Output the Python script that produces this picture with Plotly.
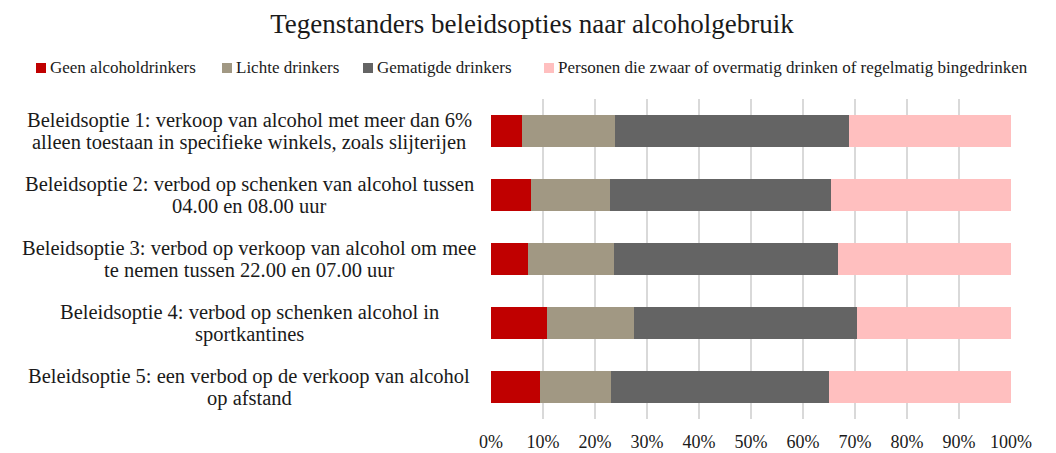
import plotly.graph_objects as go

# Share of opponents per policy option, by drinking group (percent)
options = [
    "Beleidsoptie 1: verkoop van alcohol met meer dan 6%<br>alleen toestaan in specifieke winkels, zoals slijterijen",
    "Beleidsoptie 2: verbod op schenken van alcohol tussen<br>04.00 en 08.00 uur",
    "Beleidsoptie 3: verbod op verkoop van alcohol om mee<br>te nemen tussen 22.00 en 07.00 uur",
    "Beleidsoptie 4: verbod op schenken alcohol in<br>sportkantines",
    "Beleidsoptie 5: een verbod op de verkoop van alcohol<br>op afstand",
]
geen = [6.0, 7.7, 7.2, 10.8, 9.5]
licht = [17.9, 15.2, 16.5, 16.7, 13.6]
gematigd = [44.9, 42.5, 43.0, 42.8, 41.9]
zwaar = [31.2, 34.6, 33.3, 29.7, 35.0]

groups = [
    "Geen alcoholdrinkers",
    "Lichte drinkers",
    "Gematigde drinkers",
    "Personen die zwaar of overmatig drinken of regelmatig bingedrinken",
]
colours = ["#C00000", "#A19883", "#646464", "#FFBFBF"]
x_ticks = [0, 10, 20, 30, 40, 50, 60, 70, 80, 90, 100]

FONT = "Liberation Serif"
TEXT = "#1a1a1a"
# page body has an 8px margin, so the figure is drawn 8px smaller
PAGE_OFF = 8
W, H = 1056 - PAGE_OFF, 453 - PAGE_OFF
M = {"l": 483, "r": 45, "t": 91, "b": 34}
PLOT_W = W - M["l"] - M["r"]
PLOT_H = H - M["t"] - M["b"]


def px_x(px):
    """Page pixel x -> paper x."""
    return (px - PAGE_OFF - M["l"]) / PLOT_W


def px_y(py):
    """Page pixel y (from top) -> paper y."""
    return (H - M["b"] - (py - PAGE_OFF)) / PLOT_H


fig = go.Figure()
for name, vals, col in zip(groups, [geen, licht, gematigd, zwaar], colours):
    fig.add_trace(
        go.Bar(
            y=options,
            x=vals,
            name=name,
            orientation="h",
            marker={"color": col, "line": {"width": 0}},
            showlegend=False,
        )
    )

# centred two-line category labels
for opt in options:
    lines = opt.split("<br>")
    n = len(lines)
    for i, line in enumerate(lines):
        fig.add_annotation(
            x=px_x(249),
            xref="paper",
            y=opt,
            yref="y",
            text=line,
            showarrow=False,
            xanchor="center",
            yanchor="middle",
            yshift=(n - 1) * 11 - i * 22,
            font={"family": FONT, "size": 20.5, "color": TEXT},
        )

# legend drawn by hand so it fits on one row like the original
legend_x = [36, 222, 363, 544]
legend_y = 68
for name, col, lx in zip(groups, colours, legend_x):
    fig.add_shape(
        type="rect",
        xref="paper",
        yref="paper",
        x0=px_x(lx),
        x1=px_x(lx + 10),
        y0=px_y(legend_y + 5),
        y1=px_y(legend_y - 5),
        fillcolor=col,
        line={"width": 0},
    )
    fig.add_annotation(
        x=px_x(lx + 12),
        xref="paper",
        y=px_y(legend_y),
        yref="paper",
        text=name,
        showarrow=False,
        xanchor="left",
        yanchor="middle",
        font={"family": FONT, "size": 17, "color": TEXT},
    )

fig.update_layout(
    barmode="stack",
    bargap=0.5,
    width=W,
    height=H,
    paper_bgcolor="white",
    plot_bgcolor="white",
    margin=M,
    showlegend=False,
    title={
        "text": "Tegenstanders beleidsopties naar alcoholgebruik",
        "x": 0.5,
        "xanchor": "center",
        "y": 1 - (24 - PAGE_OFF) / H,
        "yanchor": "middle",
        "font": {"family": FONT, "size": 27, "color": TEXT},
    },
    xaxis={
        "range": [0, 100],
        "tickvals": x_ticks,
        "ticktext": [f"{t}%" for t in x_ticks],
        "showgrid": True,
        "gridcolor": "#D9D9D9",
        "gridwidth": 1.5,
        "zeroline": False,
        "showline": False,
        "ticks": "",
        "automargin": False,
        "ticklabelstandoff": 10,
        "tickfont": {"family": FONT, "size": 18, "color": TEXT},
    },
    yaxis={
        "autorange": "reversed",
        "showticklabels": False,
        "showgrid": False,
        "zeroline": False,
        "showline": False,
        "ticks": "",
        "automargin": False,
    },
)

fig.write_html("out.html")
